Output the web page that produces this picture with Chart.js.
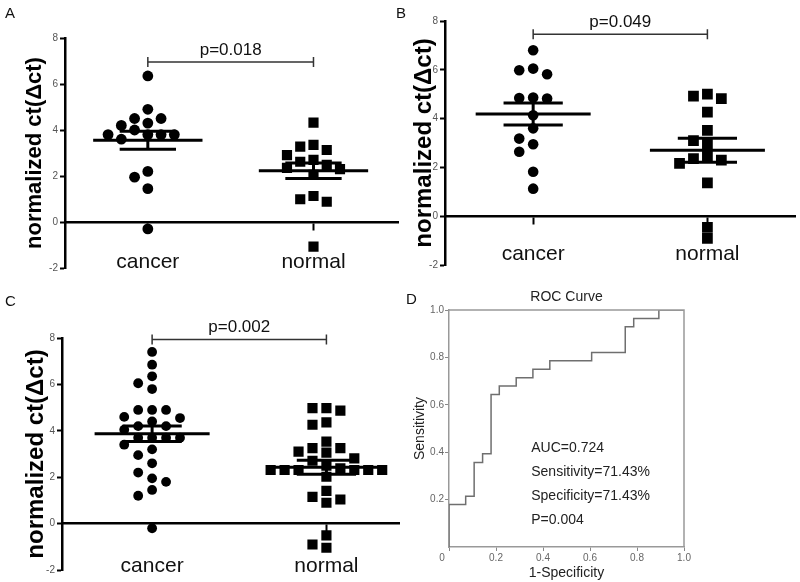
<!DOCTYPE html>
<html>
<head>
<meta charset="utf-8">
<script src="https://cdn.jsdelivr.net/npm/chart.js@4.4.1/dist/chart.umd.min.js"></script>
<style>
  body { margin: 0; background: #fff; }
  #fig { position: relative; width: 800px; height: 582px; overflow: hidden; font-family: "Liberation Sans", Arial, sans-serif; }
  #fig canvas { position: absolute; }
  .tag { position: absolute; font-size: 15px; line-height: 15px; color: #111; }
</style>
</head>
<body>
<div id="fig">
  <canvas id="chartA" width="406" height="290" style="left:0;top:0"></canvas>
  <canvas id="chartB" width="403" height="290" style="left:400px;top:0"></canvas>
  <canvas id="chartC" width="407" height="292" style="left:0;top:290px"></canvas>
  <canvas id="chartD" width="400" height="292" style="left:400px;top:290px"></canvas>
  <div class="tag" style="left:5px;top:5px">A</div>
  <div class="tag" style="left:396px;top:5px">B</div>
  <div class="tag" style="left:5px;top:293px">C</div>
  <div class="tag" style="left:406px;top:291px">D</div>
</div>
<script>
// data
const groups = ['cancer', 'normal'];
const yTicks = [-2, 0, 2, 4, 6, 8];

const cancerA = [6.35, 4.9, 4.5, 4.5, 4.3, 4.2, 4.0, 3.8, 3.8, 3.8, 3.8, 3.6, 2.2, 1.95, 1.45, -0.3];
const normalA = [4.32, 3.35, 3.28, 3.13, 2.91, 2.7, 2.62, 2.48, 2.35, 2.3, 2.05, 1.13, 0.99, 0.88, -1.07];

const cancerB = [6.8, 6.05, 5.98, 5.82, 4.86, 4.84, 4.82, 4.14, 3.6, 3.18, 2.95, 2.64, 1.82, 1.13];
const normalB = [5.0, 4.92, 4.82, 4.27, 3.52, 3.1, 2.95, 2.46, 2.36, 2.3, 2.16, 1.37, -0.46, -0.91];

const cancerC = [7.4, 6.85, 6.35, 6.05, 5.8, 4.9, 4.9, 4.9, 4.6, 4.55, 4.4, 4.2, 4.2, 4.05,
  3.7, 3.7, 3.7, 3.7, 3.4, 3.2, 2.95, 2.6, 2.2, 1.95, 1.8, 1.45, 1.2, -0.2];
const normalC = [4.98, 4.98, 4.87, 4.36, 4.26, 3.53, 3.25, 3.25, 3.1, 3.06, 2.81, 2.71, 2.5, 2.38,
  2.31, 2.31, 2.31, 2.31, 2.31, 2.31, 2.02, 1.41, 1.15, 1.04, 0.9, -0.51, -0.9, -1.04];

const pLabels = ['p=0.018', 'p=0.049', 'p=0.002'];
const pBracketY = [6.96, 7.46, 7.93];

// ROC curve (1-specificity, sensitivity)
const rocFpr = [0, 0, 0.071, 0.107, 0.143, 0.179, 0.214, 0.286, 0.357, 0.429, 0.607, 0.75, 0.786, 0.893, 1.0];
const rocTpr = [0, 0.179, 0.214, 0.357, 0.393, 0.643, 0.679, 0.714, 0.75, 0.786, 0.821, 0.929, 0.964, 1.0, 1.0];
const rocXTicks = [0, 0.2, 0.4, 0.6, 0.8, 1.0];
const rocYTicks = [0.2, 0.4, 0.6, 0.8, 1.0];
const rocNotes = ['AUC=0.724', 'Sensitivity=71.43%', 'Specificity=71.43%', 'P=0.004'];

const FONT = '"Liberation Sans", Arial, sans-serif';
Chart.defaults.font.family = FONT;

// simple beeswarm: spread points sideways when they would overlap
function swarm(values, center, step, gap) {
  const placed = [];
  const order = values.map((v, i) => i).sort((a, b) => values[b] - values[a]);
  order.forEach(i => {
    const v = values[i];
    for (let k = 0; k < 40; k++) {
      const slot = k === 0 ? 0 : (k % 2 ? -Math.ceil(k / 2) : k / 2);
      if (!placed.some(p => p.slot === slot && Math.abs(p.y - v) < gap)) {
        placed.push({ slot: slot, y: v });
        break;
      }
    }
  });
  return placed.map(p => ({ x: center + p.slot * step, y: p.y }));
}

function meanSem(values) {
  const n = values.length;
  const m = values.reduce((a, b) => a + b, 0) / n;
  const sd = Math.sqrt(values.reduce((a, b) => a + (b - m) * (b - m), 0) / (n - 1));
  return { m: m, se: sd / Math.sqrt(n) };
}

function errorBars(values, c) {
  const { m, se } = meanSem(values);
  return [
    { x: c - 0.33, y: m }, { x: c + 0.33, y: m }, { x: c, y: null },
    { x: c - 0.17, y: m + se }, { x: c + 0.17, y: m + se }, { x: c, y: null },
    { x: c - 0.17, y: m - se }, { x: c + 0.17, y: m - se }, { x: c, y: null },
    { x: c, y: m - se }, { x: c, y: m + se }
  ];
}

const bracketPlugin = {
  id: 'bracket',
  afterDatasetsDraw(chart, args, o) {
    const { ctx, scales: { x, y } } = chart;
    const x1 = x.getPixelForValue(1), x2 = x.getPixelForValue(2), py = y.getPixelForValue(o.y);
    ctx.save();
    ctx.strokeStyle = '#333';
    ctx.lineWidth = 1.5;
    ctx.beginPath();
    ctx.moveTo(x1, py - 5); ctx.lineTo(x1, py + 5);
    ctx.moveTo(x1, py); ctx.lineTo(x2, py);
    ctx.moveTo(x2, py - 5); ctx.lineTo(x2, py + 5);
    ctx.stroke();
    ctx.fillStyle = '#111';
    ctx.font = '17px ' + FONT;
    ctx.textAlign = 'center';
    ctx.textBaseline = 'middle';
    ctx.fillText(o.text, (x1 + x2) / 2, py - 12);
    ctx.restore();
  }
};

function dotPlot(id, cancer, normal, o) {
  new Chart(document.getElementById(id), {
    type: 'scatter',
    data: {
      datasets: [
        { data: errorBars(cancer, 1), showLine: true, spanGaps: false, borderColor: '#000', borderWidth: 3, pointRadius: 0, order: 0 },
        { data: errorBars(normal, 2), showLine: true, spanGaps: false, borderColor: '#000', borderWidth: 3, pointRadius: 0, order: 0 },
        { data: swarm(cancer, 1, 0.08, 0.45), pointStyle: 'circle', pointRadius: o.rc, backgroundColor: '#000', borderWidth: 0, order: 1 },
        { data: swarm(normal, 2, 0.08, 0.45), pointStyle: 'rect', pointRadius: o.rs, backgroundColor: '#000', borderWidth: 0, order: 1 }
      ]
    },
    options: {
      responsive: false,
      animation: false,
      events: [],
      layout: { padding: o.pad },
      plugins: {
        legend: { display: false },
        tooltip: { enabled: false },
        bracket: { y: o.bracketY, text: o.pText }
      },
      scales: {
        x: {
          type: 'linear',
          min: o.xMin, max: o.xMax,
          position: { y: 0 },
          afterBuildTicks: s => { s.ticks = [{ value: 1 }, { value: 2 }]; },
          ticks: { callback: v => groups[v - 1], font: { size: 21 }, color: '#111', padding: o.labelPad, autoSkip: false, maxRotation: 0 },
          grid: { display: true, drawOnChartArea: false, drawTicks: true, tickLength: 7, tickWidth: 2, tickColor: '#000' },
          border: { display: true, color: '#000', width: 2.5 }
        },
        y: {
          min: -2, max: 8,
          afterBuildTicks: s => { s.ticks = yTicks.map(v => ({ value: v })); },
          afterFit: s => { s.width = o.yWidth; },
          ticks: { font: { size: 10 }, color: '#555', padding: 2 },
          grid: { display: true, drawOnChartArea: false, tickLength: 5, tickWidth: 2, tickColor: '#000' },
          border: { color: '#000', width: 2.5 },
          title: {
            display: true, text: 'normalized ct(Δct)', color: '#000',
            font: { size: o.titleSize, weight: 'bold' },
            padding: { top: o.titlePad, bottom: 0 }
          }
        }
      }
    },
    plugins: [bracketPlugin]
  });
}

dotPlot('chartA', cancerA, normalA, {
  pad: { left: 0, right: 0, top: 38, bottom: 22 }, yWidth: 65, xMin: 0.5, xMax: 2.515,
  titleSize: 22, titlePad: 22, labelPad: 21, rc: 5.4, rs: 7.2, bracketY: pBracketY[0], pText: pLabels[0]
});
dotPlot('chartB', cancerB, normalB, {
  pad: { left: 0, right: 0, top: 21, bottom: 25 }, yWidth: 45, xMin: 0.494, xMax: 2.505,
  titleSize: 24, titlePad: 10, labelPad: 18, rc: 5.3, rs: 7.6, bracketY: pBracketY[1], pText: pLabels[1]
});
dotPlot('chartC', cancerC, normalC, {
  pad: { left: 0, right: 0, top: 48, bottom: 12 }, yWidth: 62, xMin: 0.483, xMax: 2.421,
  titleSize: 24, titlePad: 22, labelPad: 23, rc: 4.9, rs: 7.2, bracketY: pBracketY[2], pText: pLabels[2]
});

// ROC panel
const framePlugin = {
  id: 'frame',
  afterDraw(chart, args, o) {
    const { ctx, chartArea: a, scales: { x, y } } = chart;
    ctx.save();
    ctx.strokeStyle = '#999';
    ctx.lineWidth = 1.5;
    ctx.beginPath();
    ctx.moveTo(a.left, a.top); ctx.lineTo(a.right, a.top); ctx.lineTo(a.right, a.bottom);
    ctx.stroke();
    ctx.fillStyle = '#222';
    ctx.font = '14px ' + FONT;
    ctx.textAlign = 'left';
    ctx.textBaseline = 'middle';
    o.lines.forEach((t, i) => {
      ctx.fillText(t, x.getPixelForValue(o.x), y.getPixelForValue(o.y0 - i * o.dy));
    });
    ctx.restore();
  }
};

new Chart(document.getElementById('chartD'), {
  type: 'scatter',
  data: {
    datasets: [{
      data: rocFpr.map((v, i) => ({ x: v, y: rocTpr[i] })),
      showLine: true, stepped: true, borderColor: '#6f6f6f', borderWidth: 1.5, pointRadius: 0
    }]
  },
  options: {
    responsive: false,
    animation: false,
    events: [],
    layout: { padding: { left: 0, right: 116, top: 0, bottom: 0 } },
    plugins: {
      legend: { display: false },
      tooltip: { enabled: false },
      title: {
        display: true, text: 'ROC Curve', fullSize: false, color: '#222',
        font: { size: 14, weight: 'normal', lineHeight: 1 },
        padding: { top: 0, bottom: 6 }
      },
      frame: { lines: rocNotes, x: 0.35, y0: 0.417, dy: 0.101 }
    },
    scales: {
      x: {
        min: 0, max: 1,
        afterBuildTicks: s => { s.ticks = rocXTicks.map(v => ({ value: v })); },
        afterFit: s => { s.height = 35; },
        ticks: { callback: v => v === 0 ? '0     ' : v.toFixed(1), font: { size: 10 }, color: '#666', padding: 1, autoSkip: false, maxRotation: 0 },
        grid: { display: true, drawOnChartArea: false, tickLength: 4, color: '#888' },
        border: { color: '#999', width: 1.5 },
        title: { display: true, text: '1-Specificity', color: '#222', font: { size: 14 }, padding: { top: 0, bottom: 0 } }
      },
      y: {
        min: 0, max: 1,
        afterBuildTicks: s => { s.ticks = rocYTicks.map(v => ({ value: v })); },
        afterFit: s => { s.width = 49; },
        ticks: { callback: v => v.toFixed(1), font: { size: 10 }, color: '#666', padding: 1 },
        grid: { display: true, drawOnChartArea: false, tickLength: 4, color: '#888' },
        border: { color: '#999', width: 1.5 },
        title: { display: true, text: 'Sensitivity', color: '#222', font: { size: 14 }, padding: { top: 12, bottom: 0 } }
      }
    }
  },
  plugins: [framePlugin]
});
</script>
</body>
</html>
